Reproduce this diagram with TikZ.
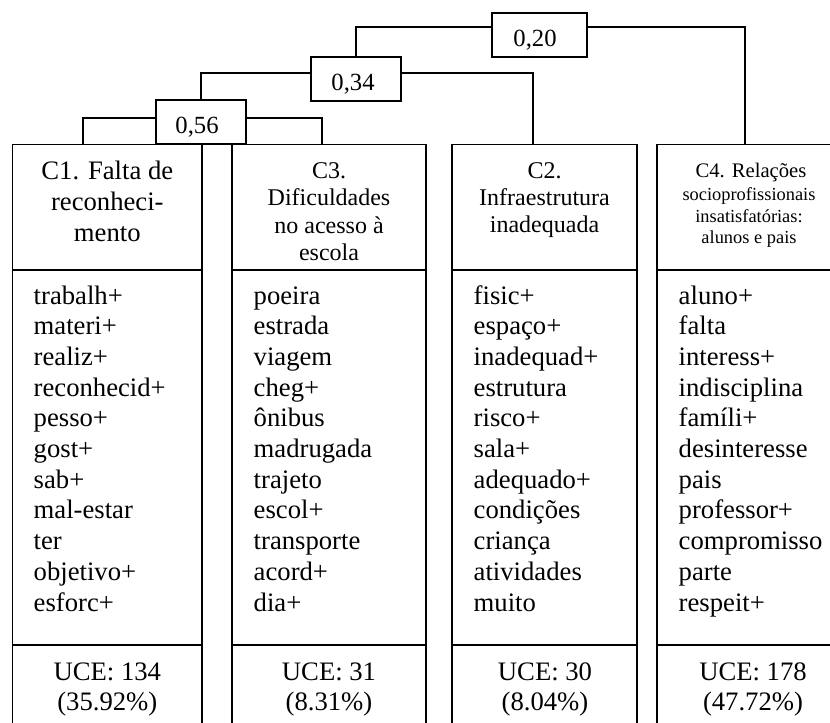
\documentclass[tikz,border=0pt]{standalone}
\usepackage{fontspec}
\setmainfont{Liberation Serif}
\begin{document}
\begin{tikzpicture}[x=0.75pt,y=-0.75pt,line width=1.1pt,
  simbox/.style={draw,minimum height=33pt,inner sep=0pt},
  simlabel/.style={font=\fontsize{18.5}{20}\selectfont,inner sep=0pt,anchor=base},
  word/.style={font=\fontsize{20}{23}\selectfont,inner sep=0pt,anchor=base west},
  uce/.style={font=\fontsize{20}{23}\selectfont,inner sep=0pt,anchor=base},
  head/.style={font=\fontsize{20}{23}\selectfont,inner sep=0pt,anchor=base},
  headmid/.style={font=\fontsize{18}{20}\selectfont,inner sep=0pt,anchor=base},
  headbig/.style={font=\fontsize{15.5}{18}\selectfont,inner sep=0pt,anchor=base},
  headsmall/.style={font=\fontsize{13.8}{16}\selectfont,inner sep=0pt,anchor=base}]
\useasboundingbox (0,0) rectangle (830,722);

% class columns: header, word list, UCE count
\foreach \l/\r in {12.7/202, 232/426, 452/637, 657/845} {
  \draw (\l,740) -- (\l,144.5) -- (\r,144.5) -- (\r,740);
  \draw (\l,270) -- (\r,270);
  \draw (\l,645) -- (\r,645);
}

% attachment points of the dendrogram on the columns
\coordinate (c1top) at (83,144.5);
\coordinate (c3top) at (322,144.5);
\coordinate (c2top) at (533,144.5);
\coordinate (c4top) at (745,144.5);

% similarity boxes
\node[simbox,minimum width=67.5pt] (s56) at (201,122) {};
\node[simbox,minimum width=67.5pt] (s34) at (356,79) {};
\node[simbox,minimum width=71.25pt] (s20) at (539.5,35) {};
\node[simlabel] (t56) at (197,133) {0,56};
\node[simlabel] (t34) at (353,90) {0,34};
\node[simlabel] (t20) at (535,46) {0,20};

% dendrogram links
\draw ([yshift=3pt]s56.west) -| (c1top);
\draw ([yshift=3pt]s56.east) -| (c3top);
\draw ([yshift=4.5pt]s34.west) -| (s56.north);
\draw ([yshift=4.5pt]s34.east) -| (c2top);
\draw ([yshift=6pt]s20.west) -| (s34.north);
\draw ([yshift=6pt]s20.east) -| (c4top);

% headers
\foreach \t [count=\i from 0] in {C1. Falta de, reconheci-, mento}
  \node[head] (h1l\i) at (107.3,{179+31*\i}) {\t};
\foreach \t [count=\i from 0] in {C3., Dificuldades, no acesso à, escola}
  \node[headmid] (h3l\i) at (329,{178+27.5*\i}) {\t};
\foreach \t [count=\i from 0] in {C2., Infraestrutura, inadequada}
  \node[headmid] (h2l\i) at (544.5,{178+27*\i}) {\t};
\node[headbig] (h4l0) at (751,177) {C4. Relações};
\foreach \t [count=\i from 1] in {socioprofissionais, insatisfatórias:, alunos e pais}
  \node[headsmall] (h4l\i) at (749,{179+21.5*\i}) {\t};

% word lists
\foreach \col/\x/\words in {
  c1/33/{trabalh+,materi+,realiz+,reconhecid+,pesso+,gost+,sab+,mal-estar,ter,objetivo+,esforc+},
  c3/253/{poeira,estrada,viagem,cheg+,ônibus,madrugada,trajeto,escol+,transporte,acord+,dia+},
  c2/473/{fisic+,espaço+,inadequad+,estrutura,risco+,sala+,adequado+,condições,criança,atividades,muito},
  c4/678/{aluno+,falta,interess+,indisciplina,famíli+,desinteresse,pais,professor+,compromisso,parte,respeit+}}
  \foreach \w [count=\i from 0] in \words
    \node[word] (\col w\i) at (\x,{304+30.7*\i}) {\w};

% UCE counts
\node[uce] (c1u) at (107.3,680) {UCE: 134};
\node[uce] (c1p) at (107.3,710) {(35.92\%)};
\node[uce] (c3u) at (329,680) {UCE: 31};
\node[uce] (c3p) at (329,710) {(8.31\%)};
\node[uce] (c2u) at (545,680) {UCE: 30};
\node[uce] (c2p) at (545,710) {(8.04\%)};
\node[uce] (c4u) at (753,680) {UCE: 178};
\node[uce] (c4p) at (753,710) {(47.72\%)};
\end{tikzpicture}
\end{document}
